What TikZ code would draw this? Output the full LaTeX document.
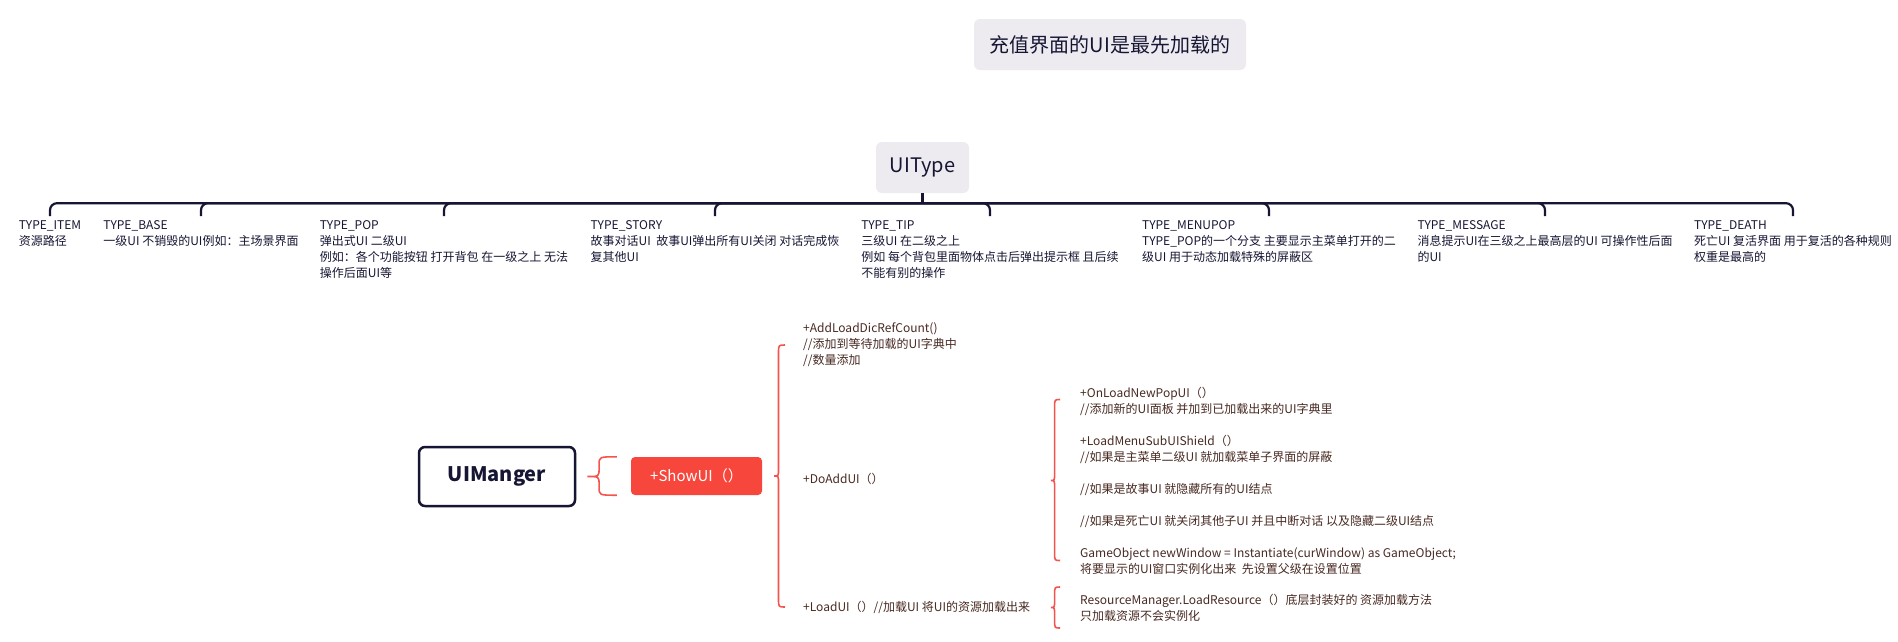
\documentclass[tikz,border=0pt]{standalone}
\usepackage{fontspec}
\setmainfont{Noto Sans CJK SC}
\usetikzlibrary{calc}
\definecolor{navy}{RGB}{22,22,52}
\definecolor{boxgray}{RGB}{237,235,239}
\definecolor{mapred}{RGB}{247,70,60}
\definecolor{bracered}{RGB}{245,84,78}
\definecolor{notebrown}{RGB}{72,42,34}
\newcommand{\drawbrace}[3]{%
  \draw[mmbrace] let \p1=(#1), \p2=(#2), \p3=(#3) in
    (\p2) .. controls ({\x1+0.4*(\x2-\x1)},\y2) .. ({\x1+0.4*(\x2-\x1)},{\y2-8pt})
    -- ({\x1+0.4*(\x2-\x1)},{\y1+8pt})
    .. controls ({\x1+0.4*(\x2-\x1)},\y1) .. (\p1)
    .. controls ({\x1+0.4*(\x2-\x1)},\y1) .. ({\x1+0.4*(\x2-\x1)},{\y1-8pt})
    -- ({\x1+0.4*(\x2-\x1)},{\y3+8pt})
    .. controls ({\x1+0.4*(\x2-\x1)},\y3) .. (\p3);}
\begin{document}
\begin{tikzpicture}[x=1pt, y=-1pt,
		headbox/.style = {shape=rectangle, rounded corners=6pt, fill=boxgray,
			text=navy, font=\fontsize{20pt}{24pt}\selectfont, minimum height=51pt},
		typetext/.style = {anchor=north, align=left, inner sep=0pt, text=navy,
			font=\fontsize{12pt}{16pt}\selectfont},
		notetext/.style = {anchor=west, align=left, inner sep=0pt, text=notebrown,
			font=\fontsize{12pt}{16pt}\selectfont},
		mgrbox/.style = {shape=rectangle, rounded corners=6pt, draw=navy, line width=2.5pt,
			fill=white, text=navy, font=\fontsize{20pt}{24pt}\selectfont\bfseries,
			minimum width=156pt, minimum height=59pt},
		redbox/.style = {shape=rectangle, rounded corners=4pt, fill=mapred, text=white,
			font=\fontsize{15pt}{18pt}\selectfont, minimum width=131pt, minimum height=38pt},
		treeline/.style = {draw=navy, line width=2.2pt},
		mmbrace/.style = {draw=bracered, line width=1.6pt}]
	\fill[white] (0,0) rectangle (1898,641);
	\useasboundingbox (0,0) rectangle (1898,641);
	\node[headbox, minimum width=272pt] (head) at (1110,44.5) {充值界面的UI是最先加载的};
	\node[headbox, minimum width=93pt] (uitype) at (922.5,167.5) {UIType};
	\node[typetext] (item) at (50,220) {TYPE\_ITEM\\资源路径};
	\node[typetext] (base) at (201,220) {TYPE\_BASE\\一级UI 不销毁的UI例如：主场景界面};
	\node[typetext] (pop) at (444,220) {TYPE\_POP\\弹出式UI 二级UI\\例如：各个功能按钮 打开背包 在一级之上 无法\\操作后面UI等};
	\node[typetext] (story) at (715,220) {TYPE\_STORY\\故事对话UI \ 故事UI弹出所有UI关闭 对话完成恢\\复其他UI};
	\node[typetext] (tip) at (990,220) {TYPE\_TIP\\三级UI 在二级之上\\例如 每个背包里面物体点击后弹出提示框 且后续\\不能有别的操作};
	\node[typetext] (menupop) at (1269,220) {TYPE\_MENUPOP\\TYPE\_POP的一个分支 主要显示主菜单打开的二\\级UI 用于动态加载特殊的屏蔽区};
	\node[typetext] (message) at (1545,220) {TYPE\_MESSAGE\\消息提示UI在三级之上最高层的UI 可操作性后面\\的UI};
	\node[typetext] (death) at (1793,220) {TYPE\_DEATH\\死亡UI 复活界面 用于复活的各种规则\\权重是最高的};
	\draw[treeline] (uitype.south) -- ++(0,10) coordinate (hub);
	\foreach \c in {item,base,pop,story,tip,menupop,message,death}
		\draw[treeline, rounded corners=7pt] (hub) -| ([yshift=4pt]\c.north);
	\node[mgrbox] (uimanger) at (497,476.5) {UIManger};
	\node[redbox] (showui) at (696.5,476) {+ShowUI（）};
	\node[notetext] (addload) at (803,345) {+AddLoadDicRefCount()\\//添加到等待加载的UI字典中\\//数量添加};
	\node[notetext] (doadd) at (803,479) {+DoAddUI（）};
	\node[notetext] (loadui) at (803,607) {+LoadUI（）//加载UI 将UI的资源加载出来};
	\node[notetext] (doaddnotes) at (1080,480.5) {+OnLoadNewPopUI（）\\//添加新的UI面板 并加到已加载出来的UI字典里\\[16pt]+LoadMenuSubUIShield（）\\//如果是主菜单二级UI 就加载菜单子界面的屏蔽\\[16pt]//如果是故事UI 就隐藏所有的UI结点\\[16pt]//如果是死亡UI 就关闭其他子UI 并且中断对话 以及隐藏二级UI结点\\[16pt]GameObject newWindow = Instantiate(curWindow) as GameObject;\\将要显示的UI窗口实例化出来 \ 先设置父级在设置位置};
	\node[notetext] (loadnotes) at (1080,607.5) {ResourceManager.LoadResource（）底层封装好的 资源加载方法\\只加载资源不会实例化};
	\coordinate (tipA) at ($(uimanger.east)+(11,0)$);
	\coordinate (topA) at ($(showui.north west)+(-14,0)$);
	\coordinate (botA) at ($(showui.south west)+(-14,0)$);
	\drawbrace{tipA}{topA}{botA}
	\coordinate (tipB) at ($(showui.east)+(12,0)$);
	\coordinate (topB) at ($(addload.west)+(-18,0)$);
	\coordinate (botB) at ($(loadui.west)+(-18,0)$);
	\drawbrace{tipB}{topB}{botB}
	\coordinate (tipC) at ($(doaddnotes.west)+(-29,0)$);
	\coordinate (topC) at ($(doaddnotes.west)+(-20,-81)$);
	\coordinate (botC) at ($(doaddnotes.west)+(-20,80)$);
	\drawbrace{tipC}{topC}{botC}
	\coordinate (tipD) at ($(loadnotes.west)+(-29,0)$);
	\coordinate (topD) at ($(loadnotes.west)+(-20,-20.5)$);
	\coordinate (botD) at ($(loadnotes.west)+(-20,20.5)$);
	\drawbrace{tipD}{topD}{botD}
\end{tikzpicture}
\end{document}
